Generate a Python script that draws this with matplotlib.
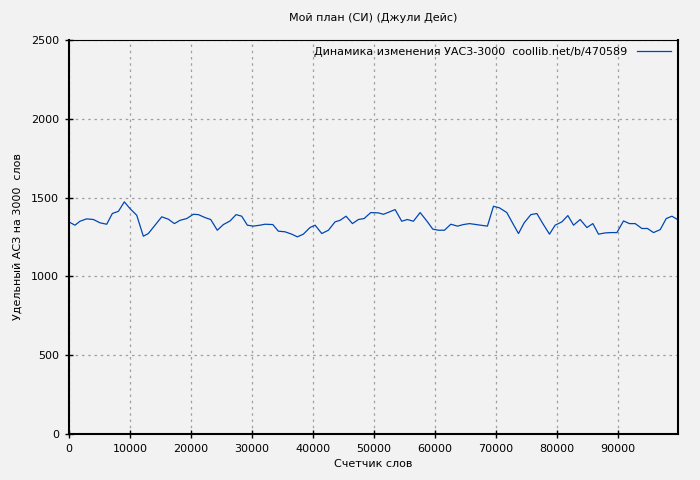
import matplotlib
matplotlib.use("Agg")
import matplotlib.pyplot as plt

# word counter positions and specific AC3 values
words = [160, 980, 1800, 2900, 4000, 5080, 6180, 7100, 8100, 9070, 10000, 11100,
         12180, 13000, 14100, 15200, 16280, 17270, 18200, 19290, 20380, 21200,
         22300, 23220, 24300, 25300, 26400, 27380, 28300, 29230, 30200, 31300,
         32130, 33400, 34310, 35400, 36500, 37420, 38400, 39500, 40330, 41420,
         42510, 43600, 44430, 45400, 46450, 47430, 48360, 49450, 50700, 51530,
         52500, 53440, 54530, 55450, 56440, 57540, 58630, 59610, 60540, 61530,
         62570, 63660, 64640, 65630, 66720, 67820, 68570, 69560, 70540, 71750,
         72740, 73660, 74590, 75690, 76670, 77650, 78740, 79670, 80770, 81750,
         82680, 83770, 84870, 85850, 86770, 87870, 88850, 89790, 90870, 91850,
         92790, 93880, 94800, 95790, 96890, 97870, 98800, 99720]
ac3 = [1342, 1325, 1350, 1365, 1361, 1340, 1331, 1399, 1413, 1473, 1430, 1388,
       1255, 1272, 1325, 1378, 1363, 1335, 1356, 1367, 1394, 1392,
       1373, 1361, 1293, 1329, 1352, 1392, 1382, 1325, 1319, 1325,
       1331, 1329, 1287, 1283, 1268, 1251, 1268, 1310, 1325, 1272,
       1293, 1346, 1356, 1382, 1335, 1361, 1367, 1405, 1403, 1394,
       1409, 1424, 1350, 1361, 1350, 1405, 1352, 1300, 1293, 1293,
       1331, 1319, 1329, 1335, 1329, 1323, 1319, 1445, 1435, 1405,
       1335, 1272, 1340, 1392, 1399, 1335, 1268, 1325, 1346, 1386,
       1325, 1361, 1310, 1335, 1268, 1276, 1278, 1278, 1352, 1335,
       1335, 1304, 1304, 1278, 1297, 1367, 1382, 1361]

x_ticks = list(range(0, 100000, 10000))
y_ticks = [0, 500, 1000, 1500, 2000, 2500]

bg = "#f2f2f2"
plt.rcParams["font.family"] = ["DejaVu Sans"]
plt.rcParams["font.size"] = 8

fig = plt.figure(figsize=(7, 4.8), dpi=100, facecolor=bg)
ax = fig.add_axes([69 / 700, 1 - 434 / 480, 609 / 700, 394 / 480], facecolor=bg)

ax.plot(words, ac3, color="#0047b3", linewidth=0.9,
        label="Динамика изменения УАС3-3000  coollib.net/b/470589")

ax.set_xlim(0, 99800)
ax.set_ylim(0, 2500)
ax.set_xticks(x_ticks)
ax.set_yticks(y_ticks)
ax.grid(True, color="#a0a0a0", linestyle=(0, (2, 3)), linewidth=0.9)
ax.tick_params(direction="inout", length=6, width=1, pad=4)
ax.spines["left"].set_linewidth(1.5)
ax.spines["bottom"].set_linewidth(1.5)
ax.spines["top"].set_linewidth(0.8)
ax.spines["right"].set_linewidth(1.5)

ax.set_title("Мой план (СИ) (Джули Дейс)", fontsize=8, pad=14)
ax.set_xlabel("Счетчик слов", labelpad=4)
ax.set_ylabel("Удельный АСЗ на 3000  слов", labelpad=6)

leg = ax.legend(loc="upper right", frameon=False, markerfirst=False,
                handlelength=3.0, handletextpad=0.9, borderaxespad=0.25,
                fontsize=8)

fig.savefig("out.png", dpi=100, facecolor=bg)
